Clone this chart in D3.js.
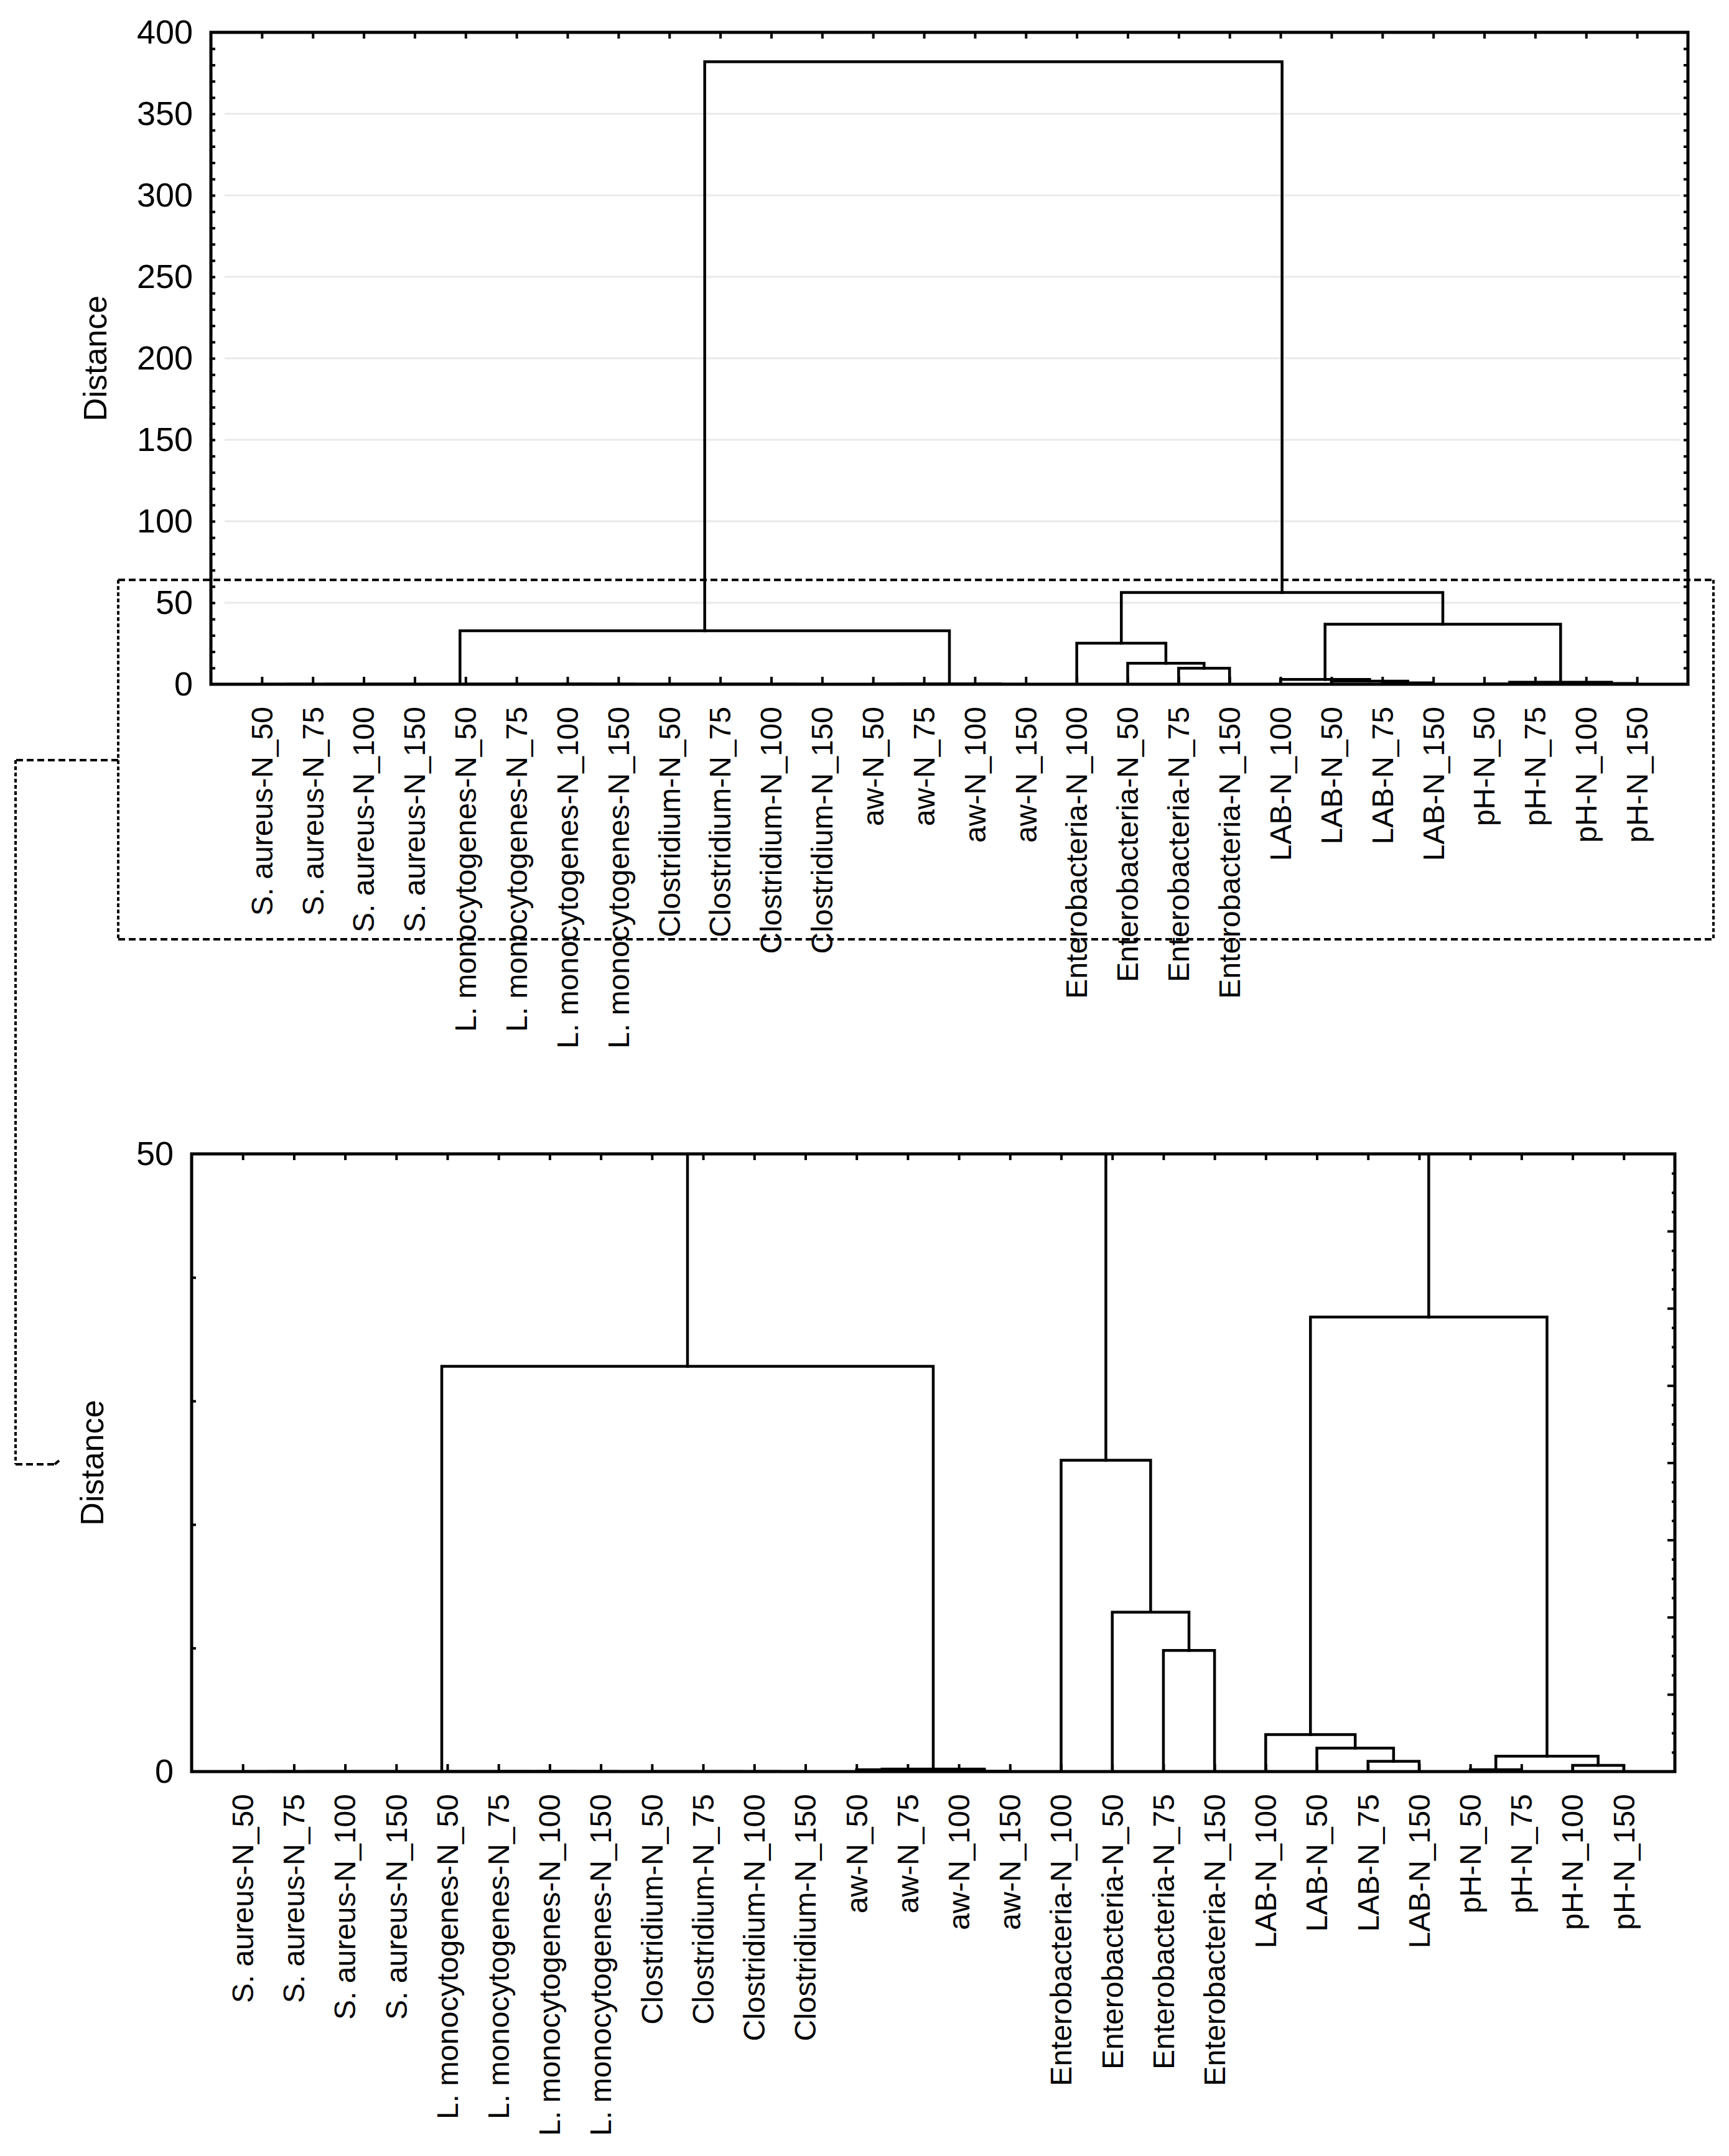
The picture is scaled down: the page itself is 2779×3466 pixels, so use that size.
<!DOCTYPE html>
<html>
<head>
<meta charset="utf-8">
<script src="https://cdn.jsdelivr.net/npm/d3@7/dist/d3.min.js"></script>
<style>
  html, body { margin: 0; padding: 0; background: #ffffff; }
  svg { display: block; }
  text { font-family: "Liberation Sans", Arial, sans-serif; fill: #000; }
</style>
</head>
<body>
<svg id="chart" width="2779" height="3466"></svg>
<script>
// ---------------- DATA ----------------
const leaves = [
  "S. aureus-N_50", "S. aureus-N_75", "S. aureus-N_100", "S. aureus-N_150",
  "L. monocytogenes-N_50", "L. monocytogenes-N_75", "L. monocytogenes-N_100", "L. monocytogenes-N_150",
  "Clostridium-N_50", "Clostridium-N_75", "Clostridium-N_100", "Clostridium-N_150",
  "aw-N_50", "aw-N_75", "aw-N_100", "aw-N_150",
  "Enterobacteria-N_100", "Enterobacteria-N_50", "Enterobacteria-N_75", "Enterobacteria-N_150",
  "LAB-N_100", "LAB-N_50", "LAB-N_75", "LAB-N_150",
  "pH-N_50", "pH-N_75", "pH-N_100", "pH-N_150"
];
// linkage: merge k creates cluster id 28+k from (linkA[k], linkB[k]) at linkHeight[k]
const linkA = [0, 28, 29, 6, 5, 10, 9, 8, 32, 4, 30, 14, 12, 40, 38, 18, 17, 16, 22, 21, 20, 24, 26, 49, 48, 45, 42];
const linkB = [1, 2, 3, 7, 31, 11, 33, 34, 35, 36, 37, 15, 13, 39, 41, 19, 43, 44, 23, 46, 47, 25, 27, 50, 51, 52, 53];
const linkHeight = [0, 0, 0, 0, 0, 0, 0, 0, 0, 0, 0, 0.03, 0.15, 0.2, 32.8, 9.8, 12.9, 25.2, 0.83, 1.9, 3.0, 0.15, 0.5, 1.25, 36.8, 56.3, 382];

const topTickLabels = [0, 50, 100, 150, 200, 250, 300, 350, 400];
const topGridValues = [50, 100, 150, 200, 250, 300, 350];
const bottomTickLabels = [0, 50];

const axisTitle = "Distance";

// ---------------- TREE LAYOUT ----------------
const n = leaves.length;
const pos = leaves.map((d, i) => i);
const hgt = leaves.map(() => 0);
linkA.forEach((a, k) => {
  const b = linkB[k];
  pos[n + k] = (pos[a] + pos[b]) / 2;
  hgt[n + k] = linkHeight[k];
});

const svg = d3.select("#chart");
svg.append("rect").attr("width", 2779).attr("height", 3466).attr("fill", "#fff");

function drawPanel(cfg) {
  const g = svg.append("g");
  const x = d3.scaleLinear().domain([-1, n]).range([cfg.left, cfg.right]);
  const y = d3.scaleLinear().domain([0, cfg.yMax]).range([cfg.bottom, cfg.top]);
  const clipId = "clip" + cfg.id;
  svg.append("clipPath").attr("id", clipId)
    .append("rect").attr("x", cfg.left).attr("y", cfg.top)
    .attr("width", cfg.right - cfg.left).attr("height", cfg.bottom - cfg.top);

  // gridlines
  if (cfg.grid) {
    g.append("g").selectAll("line").data(cfg.grid).join("line")
      .attr("x1", cfg.left + 22).attr("x2", cfg.right - 12)
      .attr("y1", d => y(d)).attr("y2", d => y(d))
      .attr("stroke", "#e9e9e9").attr("stroke-width", 3);
  }

  // dendrogram links
  const linkG = g.append("g").attr("clip-path", `url(#${clipId})`);
  linkG.selectAll("path").data(linkA.map((a, k) => ({a, b: linkB[k], h: linkHeight[k]})))
    .join("path")
    .attr("d", d => {
      const xa = x(pos[d.a]), xb = x(pos[d.b]);
      return `M${xa},${y(hgt[d.a])}V${y(d.h)}H${xb}V${y(hgt[d.b])}`;
    })
    .attr("fill", "none").attr("stroke", "#000").attr("stroke-width", 4.5)
    .attr("stroke-linejoin", "miter").attr("stroke-linecap", "square");

  // left axis: labels
  const yAxisLab = d3.axisLeft(y).tickValues(cfg.labels).tickSize(0).tickPadding(29)
    .tickFormat(d3.format("d"));
  const ga = g.append("g").attr("transform", `translate(${cfg.left},0)`).call(yAxisLab);
  ga.select(".domain").remove();
  ga.selectAll("text").attr("font-size", 54).attr("font-family", '"Liberation Sans", Arial, sans-serif')
    .attr("fill", "#000");

  // left axis inner ticks
  const gl = g.append("g").attr("transform", `translate(${cfg.left},0)`)
    .call(d3.axisRight(y).tickValues(cfg.leftTicks).tickSize(7).tickFormat(""));
  gl.select(".domain").remove();
  gl.selectAll("line").attr("stroke", "#000").attr("stroke-width", 4);

  // right axis inner ticks
  const gr = g.append("g").attr("transform", `translate(${cfg.right},0)`)
    .call(d3.axisLeft(y).tickValues(cfg.rightTicks).tickSize(cfg.rightTickLen).tickFormat(""));
  gr.select(".domain").remove();
  gr.selectAll("line").attr("stroke", "#000").attr("stroke-width", 4);
  if (cfg.rightMinor) {
    const grm = g.append("g").attr("transform", `translate(${cfg.right},0)`)
      .call(d3.axisLeft(y).tickValues(cfg.rightMinor).tickSize(5).tickFormat(""));
    grm.select(".domain").remove();
    grm.selectAll("line").attr("stroke", "#000").attr("stroke-width", 4);
  }

  // top & bottom inner ticks at leaves
  const idx = d3.range(n);
  const gt = g.append("g").attr("transform", `translate(0,${cfg.top})`)
    .call(d3.axisBottom(x).tickValues(idx).tickSize(10).tickFormat(""));
  gt.select(".domain").remove();
  gt.selectAll("line").attr("stroke", "#000").attr("stroke-width", 4);
  const gb = g.append("g").attr("transform", `translate(0,${cfg.bottom})`)
    .call(d3.axisTop(x).tickValues(idx).tickSize(12).tickFormat(""));
  gb.select(".domain").remove();
  gb.selectAll("line").attr("stroke", "#000").attr("stroke-width", 4);

  // frame
  g.append("rect").attr("x", cfg.left).attr("y", cfg.top)
    .attr("width", cfg.right - cfg.left).attr("height", cfg.bottom - cfg.top)
    .attr("fill", "none").attr("stroke", "#000").attr("stroke-width", 5);

  // leaf labels
  g.append("g").selectAll("text").data(leaves).join("text")
    .attr("transform", (d, i) => `translate(${x(i)},${cfg.bottom + 36}) rotate(-90)`)
    .attr("text-anchor", "end").attr("dy", "0.35em")
    .attr("font-size", 48)
    .text(d => d);

  // axis title
  g.append("text")
    .attr("transform", `translate(${cfg.titleX},${(cfg.top + cfg.bottom) / 2}) rotate(-90)`)
    .attr("text-anchor", "middle").attr("dy", "0.35em")
    .attr("font-size", 52).text(axisTitle);

  return {x, y};
}

const topPanel = drawPanel({
  id: "top", left: 339, right: 2713, top: 52, bottom: 1100, yMax: 400,
  labels: topTickLabels, grid: topGridValues,
  leftTicks: d3.range(10, 400, 10), rightTicks: d3.range(10, 400, 10), rightTickLen: 7,
  titleX: 153
});

const bottomPanel = drawPanel({
  id: "bottom", left: 308, right: 2692, top: 1855, bottom: 2848, yMax: 50,
  labels: bottomTickLabels, grid: null,
  leftTicks: [10, 20, 30, 40], rightTicks: d3.range(6.25, 50, 6.25), rightTickLen: 12,
  rightMinor: d3.range(1.5625, 50, 1.5625).filter(v => Math.abs(v / 6.25 - Math.round(v / 6.25)) > 1e-6),
  titleX: 148
});

// ---------------- ZOOM WINDOW + CONNECTOR ----------------
const zoomTopValue = 64;
const boxTop = topPanel.y(zoomTopValue);
const boxLeft = 190, boxRight = 2754, boxBottom = 1510;
const ann = svg.append("g").attr("stroke", "#000").attr("stroke-width", 4).attr("fill", "none");
const hDash = "11,6", vDash = "6,4";
ann.append("line").attr("x1", boxLeft).attr("x2", boxRight).attr("y1", boxTop).attr("y2", boxTop).attr("stroke-dasharray", hDash);
ann.append("line").attr("x1", boxLeft).attr("x2", boxRight).attr("y1", boxBottom).attr("y2", boxBottom).attr("stroke-dasharray", hDash);
ann.append("line").attr("x1", boxLeft).attr("x2", boxLeft).attr("y1", boxTop).attr("y2", boxBottom).attr("stroke-dasharray", vDash);
ann.append("line").attr("x1", boxRight).attr("x2", boxRight).attr("y1", boxTop).attr("y2", boxBottom).attr("stroke-dasharray", vDash);

const connY1 = 1222, connX = 25, connY2 = 2354, connEnd = 88;
ann.append("line").attr("x1", boxLeft).attr("x2", connX).attr("y1", connY1).attr("y2", connY1).attr("stroke-dasharray", hDash);
ann.append("line").attr("x1", connX).attr("x2", connX).attr("y1", connY1).attr("y2", connY2).attr("stroke-dasharray", vDash);
ann.append("line").attr("x1", connX).attr("x2", connEnd).attr("y1", connY2).attr("y2", connY2).attr("stroke-dasharray", hDash);
ann.append("path").attr("d", `M${connEnd},${connY2}L${connEnd + 7},${connY2 - 6}`);
</script>
</body>
</html>
